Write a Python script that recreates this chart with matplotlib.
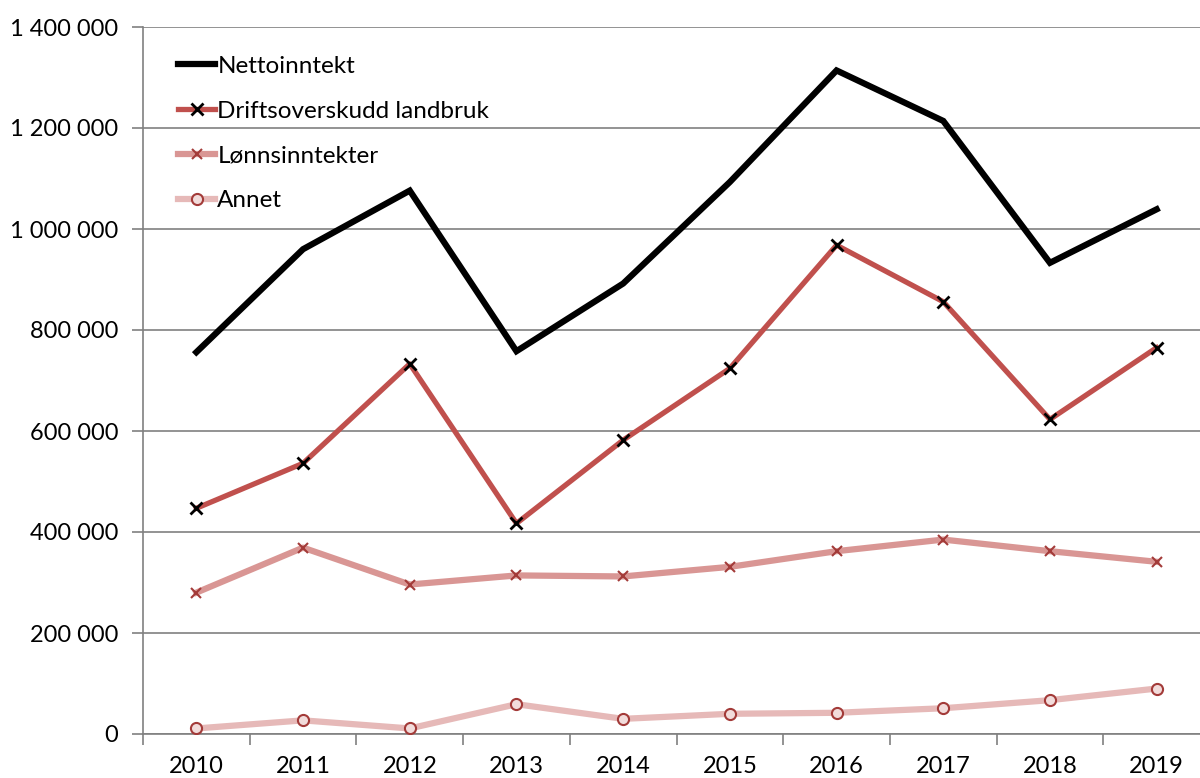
import matplotlib
matplotlib.use("Agg")
import matplotlib.pyplot as plt
from matplotlib.ticker import FuncFormatter, FixedLocator

years = ["2010", "2011", "2012", "2013", "2014", "2015", "2016", "2017", "2018", "2019"]
nettoinntekt = [756000, 960000, 1076000, 758000, 892000, 1093000, 1314000, 1214000, 933000, 1039000]
driftsoverskudd = [447000, 536000, 733000, 417000, 582000, 724000, 968000, 856000, 623000, 765000]
lonnsinntekter = [280000, 369000, 296000, 314000, 312000, 331000, 362000, 385000, 362000, 341000]
annet = [11000, 27000, 11000, 59000, 30000, 40000, 42000, 51000, 67000, 90000]

plt.rcParams['font.family'] = ['Lato', 'DejaVu Sans']

fig = plt.figure(figsize=(12, 7.78), dpi=100)
ax = fig.add_axes([143/1200, 44/778, 1067/1200, 707/778])

x = list(range(len(years)))
ax.plot(x, nettoinntekt, color='black', lw=4.5, solid_joinstyle='miter', label='Nettoinntekt', zorder=5)
ax.plot(x, driftsoverskudd, color='#C0504D', lw=3.8, marker='x', ms=9, mew=2,
        mec='black', label='Driftsoverskudd landbruk', zorder=4)
ax.plot(x, lonnsinntekter, color='#D99694', lw=4.5, marker='x', ms=7, mew=1.5,
        mec='#A33B39', label='Lønnsinntekter', zorder=3)
ax.plot(x, annet, color='#E6B9B8', lw=4.5, marker='o', ms=8, mew=1.5,
        mec='#A33B39', mfc='#F2DCDB', label='Annet', zorder=3)

ax.set_xlim(-0.5, len(years) - 0.5)
ax.set_ylim(0, 1400000)
ax.yaxis.set_major_locator(FixedLocator(range(0, 1400001, 200000)))
ax.yaxis.set_major_formatter(FuncFormatter(lambda v, p: f"{int(v):,}".replace(",", " ")))
ax.set_xticks(x)
ax.set_xticklabels(years)
ax.xaxis.set_minor_locator(FixedLocator([i + 0.5 for i in range(-1, len(years))]))
ax.tick_params(axis='x', which='major', length=0, labelsize=17, pad=16)
ax.tick_params(axis='x', which='minor', length=8, width=1.2, color='#808080')
ax.tick_params(axis='y', which='major', length=8, width=1.2, color='#808080', labelsize=17, pad=10)

ax.grid(axis='y', color='#808080', lw=1.2)
ax.set_axisbelow(True)
for s in ['top', 'right']:
    ax.spines[s].set_visible(False)
for s in ['left', 'bottom']:
    ax.spines[s].set_color('#808080')
    ax.spines[s].set_linewidth(1.2)

leg = ax.legend(loc='upper left', bbox_to_anchor=(0.012, 0.99), frameon=False, fontsize=17.5,
                handlelength=1.55, handletextpad=0.08, labelspacing=0.98)

fig.savefig('out.png', dpi=100, facecolor='white')
